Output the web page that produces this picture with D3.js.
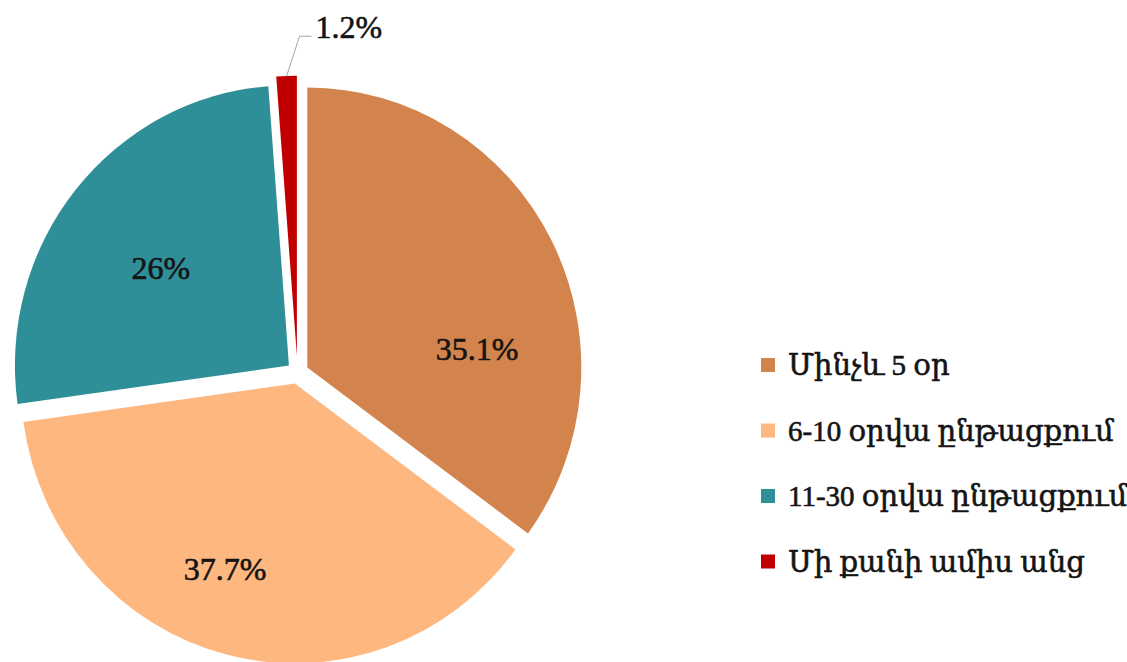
<!DOCTYPE html>
<html>
<head>
<meta charset="utf-8">
<script src="https://cdn.jsdelivr.net/npm/d3@7"></script>
<style>
  html, body { margin: 0; padding: 0; background: #fff; }
  svg text {
    font-family: "Liberation Serif", "DejaVu Serif", serif;
    fill: #141414;
    stroke: #141414;
    stroke-width: 0.6px;
  }
</style>
</head>
<body>
<div id="chart"></div>
<script>
const categories = ['Մինչև 5 օր', '6-10 օրվա ընթացքում', '11-30 օրվա ընթացքում', 'Մի քանի ամիս անց'];
const values = [35.1, 37.7, 26, 1.2];
const valueLabels = ['35.1%', '37.7%', '26%', '1.2%'];
const colors = ['#D2844C', '#FFB780', '#2E8F98', '#C00000'];

const W = 1127, H = 662;
const cx = 297.5, cy = 372.5;
const rx = 274, ry = 280;
const explode = [11, 11, 11, 16.5];

// label placement: angle in degrees (clockwise from top), distance from centre
const labelPos = [[82.6, 181], [200.3, 209], [307.4, 172]];

const svg = d3.select('#chart').append('svg').attr('width', W).attr('height', H);

const pie = d3.pie().sort(null).value(d => d)(values);
const arc = d3.arc().innerRadius(0).outerRadius(rx);

const g = svg.append('g')
  .attr('transform', `translate(${cx},${cy}) scale(1,${ry / rx})`);

g.selectAll('path')
  .data(pie)
  .join('path')
  .attr('d', arc)
  .attr('fill', (d, i) => colors[i])
  .attr('transform', (d, i) => {
    const a = (d.startAngle + d.endAngle) / 2;
    return `translate(${Math.sin(a) * explode[i]},${-Math.cos(a) * explode[i]})`;
  });

// inside labels
svg.selectAll('text.lbl')
  .data(labelPos)
  .join('text')
  .attr('class', 'lbl')
  .attr('x', d => cx + Math.sin(d[0] * Math.PI / 180) * d[1])
  .attr('y', d => cy - Math.cos(d[0] * Math.PI / 180) * d[1])
  .attr('text-anchor', 'middle')
  .attr('dominant-baseline', 'central')
  .attr('font-size', 32)
  .text((d, i) => valueLabels[i]);

// small slice: leader line + outside label
const red = pie[3];
const ra = (red.startAngle + red.endAngle) / 2;
const px = cx + Math.sin(ra) * (rx + explode[3]);
const py = cy - Math.cos(ra) * (ry + explode[3]);
const elbow = [px + 13, py - 40];
svg.append('path')
  .attr('d', d3.line()([[px, py], elbow, [elbow[0] + 12, elbow[1]]]))
  .attr('fill', 'none')
  .attr('stroke', '#a6a6a6')
  .attr('stroke-width', 1);
svg.append('text')
  .attr('x', elbow[0] + 16)
  .attr('y', elbow[1] - 9)
  .attr('dominant-baseline', 'central')
  .attr('font-size', 32)
  .text(valueLabels[3]);

// legend
const legend = svg.append('g').attr('transform', 'translate(761,365)');
const item = legend.selectAll('g')
  .data(categories)
  .join('g')
  .attr('transform', (d, i) => `translate(0,${i * 65.5})`);
item.append('rect')
  .attr('x', 0).attr('y', -7)
  .attr('width', 14).attr('height', 14)
  .attr('fill', (d, i) => colors[i]);
item.append('text')
  .attr('x', 27)
  .attr('y', 0)
  .attr('dominant-baseline', 'central')
  .attr('font-size', 29)
  .text(d => d);
</script>
</body>
</html>
